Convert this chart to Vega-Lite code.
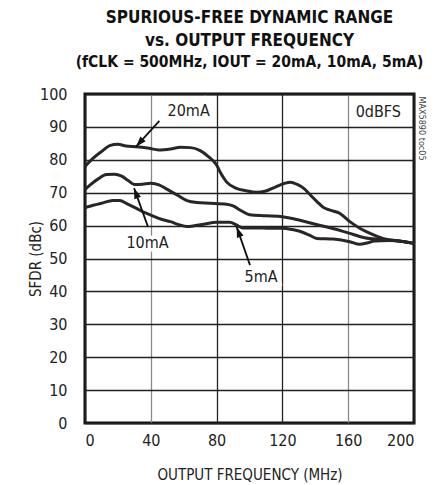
{
  "$schema": "https://vega.github.io/schema/vega-lite/v6.json",
  "autosize": "none",
  "width": 329,
  "height": 329,
  "padding": {"left": 85, "top": 94, "right": 21, "bottom": 62},
  "background": "white",
  "config": {
    "font": "DejaVu Sans Condensed, Roboto, sans-serif",
    "view": {"stroke": "#111", "strokeWidth": 3}
  },
  "title": {
    "text": ["SPURIOUS-FREE DYNAMIC RANGE", "vs. OUTPUT FREQUENCY"],
    "subtitle": "(fCLK = 500MHz, IOUT = 20mA, 10mA, 5mA)",
    "font": "DejaVu Sans Condensed, Roboto, sans-serif",
    "fontSize": 17,
    "fontWeight": "bold",
    "lineHeight": 23,
    "subtitleFont": "DejaVu Sans Condensed, Roboto, sans-serif",
    "subtitleFontSize": 15.5,
    "subtitleFontWeight": "bold",
    "subtitleColor": "#111",
    "subtitlePadding": 5,
    "anchor": "middle",
    "offset": 15,
    "color": "#111"
  },
  "datasets": {
    "curves": [
      {"series": "20mA", "f": 0, "sfdr": 78},
      {"series": "20mA", "f": 5, "sfdr": 80.5},
      {"series": "20mA", "f": 10, "sfdr": 82.5},
      {"series": "20mA", "f": 15, "sfdr": 84.3},
      {"series": "20mA", "f": 20, "sfdr": 84.7},
      {"series": "20mA", "f": 25, "sfdr": 84.2},
      {"series": "20mA", "f": 31, "sfdr": 84.0},
      {"series": "20mA", "f": 38, "sfdr": 83.6},
      {"series": "20mA", "f": 45, "sfdr": 83.0},
      {"series": "20mA", "f": 52, "sfdr": 83.3},
      {"series": "20mA", "f": 58, "sfdr": 83.8},
      {"series": "20mA", "f": 64, "sfdr": 83.7},
      {"series": "20mA", "f": 70, "sfdr": 82.8},
      {"series": "20mA", "f": 75, "sfdr": 81},
      {"series": "20mA", "f": 80, "sfdr": 78.4},
      {"series": "20mA", "f": 83, "sfdr": 75.5},
      {"series": "20mA", "f": 86, "sfdr": 73.3},
      {"series": "20mA", "f": 92, "sfdr": 71.3},
      {"series": "20mA", "f": 98, "sfdr": 70.6},
      {"series": "20mA", "f": 104, "sfdr": 70.1},
      {"series": "20mA", "f": 110, "sfdr": 70.5},
      {"series": "20mA", "f": 116, "sfdr": 71.8},
      {"series": "20mA", "f": 121, "sfdr": 72.8},
      {"series": "20mA", "f": 125, "sfdr": 73.2},
      {"series": "20mA", "f": 129, "sfdr": 72.5},
      {"series": "20mA", "f": 133, "sfdr": 71.3},
      {"series": "20mA", "f": 137, "sfdr": 69.3},
      {"series": "20mA", "f": 141, "sfdr": 67.3},
      {"series": "20mA", "f": 145, "sfdr": 65.5},
      {"series": "20mA", "f": 149, "sfdr": 64.7},
      {"series": "20mA", "f": 155, "sfdr": 63.7},
      {"series": "20mA", "f": 161, "sfdr": 61.2},
      {"series": "20mA", "f": 167, "sfdr": 59.2},
      {"series": "20mA", "f": 173, "sfdr": 57.7},
      {"series": "20mA", "f": 181, "sfdr": 56.1},
      {"series": "20mA", "f": 191, "sfdr": 55.3},
      {"series": "20mA", "f": 200, "sfdr": 54.6},
      {"series": "10mA", "f": 0, "sfdr": 71},
      {"series": "10mA", "f": 3, "sfdr": 72.3},
      {"series": "10mA", "f": 8, "sfdr": 74.2},
      {"series": "10mA", "f": 13, "sfdr": 75.5},
      {"series": "10mA", "f": 18, "sfdr": 75.6},
      {"series": "10mA", "f": 22, "sfdr": 75.1},
      {"series": "10mA", "f": 26, "sfdr": 73.8},
      {"series": "10mA", "f": 30, "sfdr": 72.5},
      {"series": "10mA", "f": 35, "sfdr": 72.6},
      {"series": "10mA", "f": 40, "sfdr": 72.9},
      {"series": "10mA", "f": 45, "sfdr": 72.4},
      {"series": "10mA", "f": 50, "sfdr": 71},
      {"series": "10mA", "f": 56, "sfdr": 69.3},
      {"series": "10mA", "f": 62, "sfdr": 67.6},
      {"series": "10mA", "f": 68, "sfdr": 67},
      {"series": "10mA", "f": 76, "sfdr": 66.8},
      {"series": "10mA", "f": 86, "sfdr": 66.5},
      {"series": "10mA", "f": 90, "sfdr": 66},
      {"series": "10mA", "f": 95, "sfdr": 64.5},
      {"series": "10mA", "f": 100, "sfdr": 63.3},
      {"series": "10mA", "f": 110, "sfdr": 63},
      {"series": "10mA", "f": 120, "sfdr": 62.7},
      {"series": "10mA", "f": 130, "sfdr": 61.7},
      {"series": "10mA", "f": 140, "sfdr": 60.4},
      {"series": "10mA", "f": 150, "sfdr": 59.2},
      {"series": "10mA", "f": 160, "sfdr": 57.8},
      {"series": "10mA", "f": 170, "sfdr": 56.3},
      {"series": "10mA", "f": 180, "sfdr": 55.8},
      {"series": "10mA", "f": 190, "sfdr": 55.4},
      {"series": "10mA", "f": 200, "sfdr": 54.6},
      {"series": "5mA", "f": 0, "sfdr": 65.5},
      {"series": "5mA", "f": 5, "sfdr": 66.2},
      {"series": "5mA", "f": 10, "sfdr": 66.8},
      {"series": "5mA", "f": 17, "sfdr": 67.6},
      {"series": "5mA", "f": 21, "sfdr": 67.6},
      {"series": "5mA", "f": 26, "sfdr": 66.5},
      {"series": "5mA", "f": 31, "sfdr": 65.3},
      {"series": "5mA", "f": 36, "sfdr": 64},
      {"series": "5mA", "f": 41.5, "sfdr": 62.9},
      {"series": "5mA", "f": 46, "sfdr": 62},
      {"series": "5mA", "f": 52, "sfdr": 61.2},
      {"series": "5mA", "f": 57, "sfdr": 60.3},
      {"series": "5mA", "f": 62, "sfdr": 59.7},
      {"series": "5mA", "f": 67, "sfdr": 60},
      {"series": "5mA", "f": 72, "sfdr": 60.4},
      {"series": "5mA", "f": 80, "sfdr": 61},
      {"series": "5mA", "f": 88, "sfdr": 61},
      {"series": "5mA", "f": 92, "sfdr": 60.2},
      {"series": "5mA", "f": 96, "sfdr": 59.3},
      {"series": "5mA", "f": 105, "sfdr": 59.3},
      {"series": "5mA", "f": 112, "sfdr": 59.2},
      {"series": "5mA", "f": 120, "sfdr": 59.2},
      {"series": "5mA", "f": 126, "sfdr": 58.8},
      {"series": "5mA", "f": 131, "sfdr": 58.2},
      {"series": "5mA", "f": 136, "sfdr": 57.2},
      {"series": "5mA", "f": 141, "sfdr": 56.1},
      {"series": "5mA", "f": 151, "sfdr": 55.9},
      {"series": "5mA", "f": 161, "sfdr": 55.1},
      {"series": "5mA", "f": 167, "sfdr": 54.3},
      {"series": "5mA", "f": 172, "sfdr": 54.8},
      {"series": "5mA", "f": 176, "sfdr": 55.3},
      {"series": "5mA", "f": 185, "sfdr": 55.5},
      {"series": "5mA", "f": 193, "sfdr": 55.2},
      {"series": "5mA", "f": 200, "sfdr": 54.6}
    ],
    "arrows": [
      {"label": "20mA", "f0": 45.2, "s0": 91.8, "f1": 31.0, "s1": 84.0, "angle": 222},
      {"label": "10mA", "f0": 38.3, "s0": 59.6, "f1": 29.8, "s1": 71.4, "angle": 340},
      {"label": "5mA", "f0": 100.3, "s0": 48.0, "f1": 92.2, "s1": 59.6, "angle": 340}
    ],
    "labels": [
      {"text": "20mA", "f": 63, "s": 94.8},
      {"text": "10mA", "f": 38, "s": 54.8},
      {"text": "5mA", "f": 107, "s": 44.5},
      {"text": "0dBFS", "f": 178.3, "s": 94.6}
    ]
  },
  "layer": [
    {
      "data": {"name": "curves"},
      "mark": {"type": "line", "interpolate": "monotone", "strokeWidth": 3, "color": "#2a2627"},
      "encoding": {
        "x": {
          "field": "f", "type": "quantitative",
          "scale": {"domain": [0, 200], "nice": false},
          "axis": {
            "values": [0, 40, 80, 120, 160, 200],
            "title": "OUTPUT FREQUENCY (MHz)",
            "titleFont": "DejaVu Sans Condensed, Roboto, sans-serif", "titleFontSize": 15, "titleFontWeight": "normal", "titleColor": "#222",
            "titlePadding": 19,
            "labelFont": "DejaVu Sans Condensed, Roboto, sans-serif", "labelFontSize": 16, "labelColor": "#222",
            "labelPadding": 9, "labelOverlap": false,
            "ticks": false, "domain": false,
            "grid": true,
            "gridColor": {"condition": {"test": "datum.value === 40 || datum.value === 160", "value": "#8a8a8a"}, "value": "#222"},
            "gridWidth": 1.3, "gridOpacity": 1
          }
        },
        "y": {
          "field": "sfdr", "type": "quantitative",
          "scale": {"domain": [0, 100], "nice": false},
          "axis": {
            "values": [0, 10, 20, 30, 40, 50, 60, 70, 80, 90, 100],
            "tickCount": 11,
            "title": "SFDR (dBc)",
            "titleFont": "DejaVu Sans Condensed, Roboto, sans-serif", "titleFontSize": 15, "titleFontWeight": "normal", "titleColor": "#222",
            "titleX": -50, "titleY": 164.5, "titleAngle": -90, "titleAlign": "center", "titleBaseline": "middle",
            "labelFont": "DejaVu Sans Condensed, Roboto, sans-serif", "labelFontSize": 16, "labelColor": "#222",
            "labelPadding": 18, "labelOverlap": false,
            "ticks": false, "domain": false,
            "grid": true, "gridColor": "#222", "gridWidth": 1.3, "gridOpacity": 1
          }
        },
        "detail": {"field": "series"}
      }
    },
    {
      "data": {"name": "arrows"},
      "mark": {"type": "rule", "strokeWidth": 1.8, "color": "#111"},
      "encoding": {
        "x": {"field": "f0", "type": "quantitative"},
        "y": {"field": "s0", "type": "quantitative"},
        "x2": {"field": "f1"},
        "y2": {"field": "s1"}
      }
    },
    {
      "data": {"name": "arrows"},
      "mark": {"type": "point", "filled": true, "opacity": 1, "color": "#111", "size": 100, "shape": "M0,0L0.7,2.1L-0.7,2.1Z"},
      "encoding": {
        "x": {"field": "f1", "type": "quantitative"},
        "y": {"field": "s1", "type": "quantitative"},
        "angle": {"field": "angle", "type": "quantitative", "scale": null}
      }
    },
    {
      "data": {"name": "labels"},
      "mark": {"type": "text", "font": "DejaVu Sans Condensed, Roboto, sans-serif", "fontSize": 16, "color": "white", "stroke": "white", "strokeWidth": 7, "align": "center", "baseline": "middle"},
      "encoding": {
        "x": {"field": "f", "type": "quantitative"},
        "y": {"field": "s", "type": "quantitative"},
        "text": {"field": "text"}
      }
    },
    {
      "data": {"name": "labels"},
      "mark": {"type": "text", "font": "DejaVu Sans Condensed, Roboto, sans-serif", "fontSize": 16, "color": "#222", "align": "center", "baseline": "middle"},
      "encoding": {
        "x": {"field": "f", "type": "quantitative"},
        "y": {"field": "s", "type": "quantitative"},
        "text": {"field": "text"}
      }
    },
    {
      "data": {"values": [{"text": "MAX5890 toc05", "f": 204.7, "s": 89.5}]},
      "mark": {"type": "text", "font": "DejaVu Sans Condensed, Roboto, sans-serif", "fontSize": 9, "color": "#444", "angle": 90, "align": "center", "baseline": "middle"},
      "encoding": {
        "x": {"field": "f", "type": "quantitative"},
        "y": {"field": "s", "type": "quantitative"},
        "text": {"field": "text"}
      }
    }
  ]
}
